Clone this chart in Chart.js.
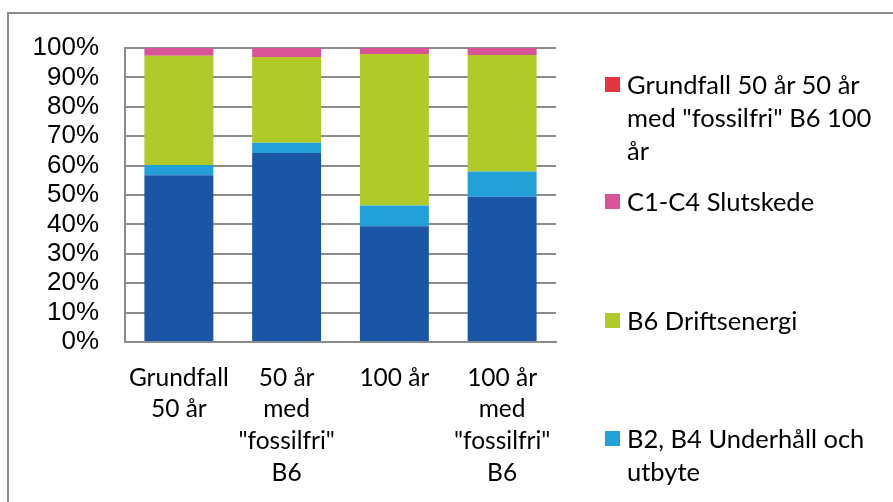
<!DOCTYPE html>
<html>
<head>
<meta charset="utf-8">
<script src="https://cdn.jsdelivr.net/npm/chart.js@4/dist/chart.umd.min.js"></script>
<style>
  html,body{margin:0;padding:0;background:#fff;}
  #wrap{position:relative;width:893px;height:502px;overflow:hidden;}
  #frame{position:absolute;left:7px;top:12px;width:920px;height:520px;border:2px solid #8c8c8c;box-sizing:border-box;}
  canvas{position:absolute;left:0;top:0;}
  .lg{position:absolute;left:605px;font-family:Lato,"DejaVu Sans",sans-serif;font-size:25.5px;line-height:32.7px;color:#000;}
  .lg .sw{position:absolute;left:0;width:15px;height:15px;}
  .lg .tx{position:absolute;left:22px;top:0;width:250px;}
</style>
</head>
<body>
<div id="wrap">
  <div id="frame"></div>
  <canvas id="c" width="893" height="502"></canvas>
  <div id="legend"></div>
</div>
<script>
const categories = [["Grundfall","50 år"],["50 år","med","\"fossilfri\"","B6"],["100 år"],["100 år","med","\"fossilfri\"","B6"]];
const seriesLabels = ["A1-A5 Produktskede","B2, B4 Underhåll och utbyte","B6 Driftsenergi","C1-C4 Slutskede","Grundfall 50 år 50 år med \"fossilfri\" B6 100 år"];
const seriesColors = ["#1b55a6","#23a0d8","#b1ca2a","#d95497","#e3343f"];
const produkt   = [56.7, 64.3, 39.4, 49.4];
const underhall = [3.5, 3.5, 7.0, 8.6];
const drift     = [37.2, 29.1, 51.6, 39.6];
const slut      = [2.6, 3.1, 2.0, 2.4];
const grundfall = [0, 0, 0, 0];
const yTicks = [0,10,20,30,40,50,60,70,80,90,100];

const values = [produkt, underhall, drift, slut, grundfall];
const datasets = values.map((v,i)=>({
  label: seriesLabels[i],
  data: v,
  backgroundColor: seriesColors[i],
  borderWidth: 0,
  barPercentage: 0.64,
  categoryPercentage: 1.0
}));

new Chart(document.getElementById('c'), {
  type: 'bar',
  data: { labels: categories, datasets },
  options: {
    responsive: false,
    animation: false,
    devicePixelRatio: 1,
    layout: { padding: { top: 48, right: 337, left: 0, bottom: 0 } },
    plugins: { legend: { display: false }, tooltip: { enabled: false } },
    scales: {
      x: {
        stacked: true,
        grid: { display: false, drawTicks: false },
        border: { display: true, color: '#8c8c8c', width: 2 },
        ticks: {
          color: '#000', maxRotation: 0, autoSkip: false, padding: 20,
          font: { family: 'Lato, "DejaVu Sans", sans-serif', size: 24.5, lineHeight: 1.29 }
        },
        afterFit: s => { s.height = 160; }
      },
      y: {
        stacked: true, min: 0, max: 100,
        afterBuildTicks: s => { s.ticks = yTicks.map(v => ({ value: v })); },
        grid: { color: '#8c8c8c', lineWidth: 2, drawTicks: false },
        border: { display: true, color: '#8c8c8c', width: 2 },
        ticks: {
          color: '#000', padding: 26, autoSkip: false, stepSize: 10,
          font: { family: '"Liberation Sans", Arial, sans-serif', size: 26 },
          callback: v => v + '%'
        },
        afterFit: s => { s.width = 125; }
      }
    }
  }
});

// HTML legend (reverse order, as in the reference)
const legendTops = [84.8, 201.5, 320.2, 438.2, 556];
const lg = document.getElementById('legend');
for (let k = 0; k < seriesLabels.length; k++) {
  const i = seriesLabels.length - 1 - k;
  const d = document.createElement('div');
  d.className = 'lg';
  d.style.top = (legendTops[k] - 16.35) + 'px';
  const sw = document.createElement('div');
  sw.className = 'sw'; sw.style.background = seriesColors[i]; sw.style.top = '8.8px';
  const tx = document.createElement('div');
  tx.className = 'tx'; tx.textContent = seriesLabels[i];
  d.appendChild(sw); d.appendChild(tx);
  lg.appendChild(d);
}
</script>
</body>
</html>
